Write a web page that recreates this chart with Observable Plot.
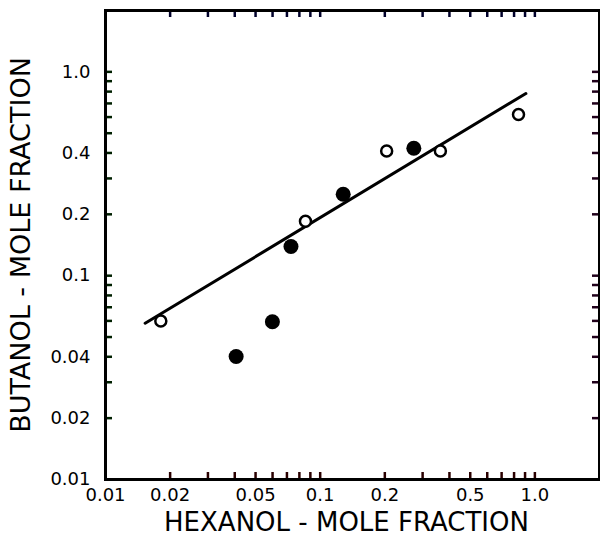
<!DOCTYPE html>
<html>
<head>
<meta charset="utf-8">
<script src="https://cdn.jsdelivr.net/npm/d3@7"></script>
<script src="https://cdn.jsdelivr.net/npm/@observablehq/plot@0.6"></script>
<style>
  html, body { margin: 0; padding: 0; background: #fff; }
  #chart svg { display: block; }
</style>
</head>
<body>
<div id="chart"></div>
<script>
// Open circles (hexanol x, butanol y)
const openX = [0.0181, 0.0854, 0.204, 0.363, 0.839];
const openY = [0.0599, 0.185, 0.409, 0.409, 0.618];
// Filled circles
const filledX = [0.0406, 0.0599, 0.0731, 0.128, 0.273];
const filledY = [0.0401, 0.0594, 0.139, 0.251, 0.422];
// Fitted line end points
const lineX = [0.0153, 0.908];
const lineY = [0.0584, 0.783];

// Axis ticks and labels
const xTickValues = [0.02,0.03,0.04,0.05,0.06,0.07,0.08,0.09,0.1,0.2,0.3,0.4,0.5,0.6,0.7,0.8,0.9,1.0];
const yTickValues = [0.02,0.03,0.04,0.05,0.06,0.07,0.08,0.09,0.1,0.2,0.3,0.4,0.5,0.6,0.7,0.8,0.9,1.0];
const xLabelValues = [0.01, 0.02, 0.05, 0.1, 0.2, 0.5, 1.0];
const xLabelTexts = ["0.01", "0.02", "0.05", "0.1", "0.2", "0.5", "1.0"];
const yLabelValues = [0.01, 0.02, 0.04, 0.07, 0.1, 0.2, 0.4, 0.7, 1.0];
const yLabelTexts = ["0.01", "0.02", "0.04", "0.07", "0.1", "0.2", "0.4", "0.7", "1.0"];
const xTitle = "HEXANOL - MOLE FRACTION";
const yTitle = "BUTANOL - MOLE FRACTION";

const openPts = openX.map((x, i) => ({x, y: openY[i]}));
const filledPts = filledX.map((x, i) => ({x, y: filledY[i]}));
const linePts = lineX.map((x, i) => ({x, y: lineY[i]}));

const W = 600, H = 540;
const mL = 105, mR = 1, mT = 10, mB = 61;
const fw = W - mL - mR, fh = H - mT - mB;
const tl = 7;
const font = "DejaVu Sans";
const xFmt = d => xLabelTexts[xLabelValues.indexOf(d)];
const yFmt = d => yLabelTexts[yLabelValues.indexOf(d)];

const chart = Plot.plot({
  width: W, height: H,
  marginLeft: mL, marginRight: mR, marginTop: mT, marginBottom: mB,
  style: {fontFamily: font, background: "#fff", color: "#000"},
  x: {type: "log", domain: [0.01, 2]},
  y: {type: "log", domain: [0.01, 2]},
  marks: [
    Plot.axisX({anchor: "bottom", ticks: xLabelValues, tickFormat: xFmt, tickSize: 0, tickPadding: 9, fontSize: 18, label: null}),
    Plot.axisY({anchor: "left", ticks: yLabelValues, tickFormat: yFmt, tickSize: 0, tickPadding: 15, fontSize: 18, label: null}),
    // inward ticks on all four sides
    Plot.tickX(xTickValues, {x: d => d, insetTop: fh - tl, stroke: "#2a0000", strokeWidth: 2.5}),
    Plot.tickX(xTickValues, {x: d => d, insetBottom: fh - tl, stroke: "#00002a", strokeWidth: 2.5}),
    Plot.tickY(yTickValues, {y: d => d, insetRight: fw - tl, stroke: "#002000", strokeWidth: 2.5}),
    Plot.tickY(yTickValues, {y: d => d, insetLeft: fw - tl, stroke: "#20001a", strokeWidth: 2.5}),
    Plot.frame({stroke: "#000", strokeWidth: 3}),
    Plot.line(linePts, {x: "x", y: "y", stroke: "#000", strokeWidth: 3}),
    Plot.dot(filledPts, {x: "x", y: "y", r: 7.5, fill: "#000", stroke: "none"}),
    Plot.dot(openPts, {x: "x", y: "y", r: 5.5, fill: "#fff", stroke: "#000", strokeWidth: 2.5}),
    Plot.text([xTitle], {frameAnchor: "bottom", dy: 51, dx: -6, fontSize: 26, fill: "#000", textAnchor: "middle"}),
    Plot.text([yTitle], {frameAnchor: "left", dx: -84, rotate: -90, fontSize: 27, fill: "#000", textAnchor: "middle"})
  ]
});
document.getElementById("chart").appendChild(chart);
</script>
</body>
</html>
